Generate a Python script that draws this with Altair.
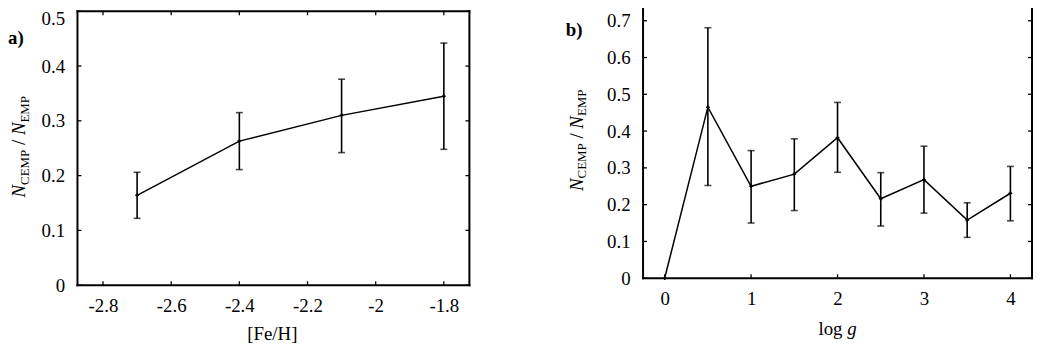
import altair as alt
import pandas as pd

FONT = "Liberation Serif"

# ---------------- data: panel a ----------------
feh = [-2.7, -2.4, -2.1, -1.8]
frac_a = [0.164, 0.263, 0.310, 0.345]
err_lo_a = [0.122, 0.211, 0.242, 0.248]
err_hi_a = [0.206, 0.315, 0.376, 0.442]
xticks_a = [-2.8, -2.6, -2.4, -2.2, -2.0, -1.8]
yticks_a = [0, 0.1, 0.2, 0.3, 0.4, 0.5]

# ---------------- data: panel b ----------------
logg = [0, 0.5, 1, 1.5, 2, 2.5, 3, 3.5, 4]
frac_b = [0.0, 0.465, 0.250, 0.283, 0.382, 0.216, 0.268, 0.158, 0.231]
err_lo_b = [None, 0.252, 0.150, 0.184, 0.288, 0.142, 0.177, 0.111, 0.156]
err_hi_b = [None, 0.681, 0.347, 0.379, 0.478, 0.287, 0.359, 0.205, 0.304]
xticks_b = [0, 1, 2, 3, 4]
yticks_b = [0, 0.1, 0.2, 0.3, 0.4, 0.5, 0.6, 0.7]

# approximate Times / Liberation Serif advance widths (em)
EM = {"N_i": 0.667, "g_i": 0.5, " ": 0.25, "/": 0.278, "C": 0.667, "E": 0.611,
      "M": 0.889, "P": 0.556, "l": 0.278, "o": 0.5, "g": 0.5}


def text_w(s, size, italic=False):
    w = 0
    for ch in s:
        key = ch + "_i" if italic and (ch + "_i") in EM else ch
        w += EM.get(key, 0.5)
    return w * size


def one(text):
    return pd.DataFrame({"t": [text]})


def vtitle(base_x, center_y, pieces):
    """rotated (bottom-to-top) composite title.
    pieces = (text, size, italic, baseline shift, gap before in px)"""
    total = sum(text_w(t, s, it) + g for t, s, it, _, g in pieces)
    y = center_y + total / 2
    layers = []
    for t, s, it, sh, g in pieces:
        y -= g
        layers.append(
            alt.Chart(one(t)).mark_text(
                angle=270, align="left", baseline="alphabetic", font=FONT,
                fontSize=s, fontStyle="italic" if it else "normal", color="black"
            ).encode(x=alt.value(base_x + sh), y=alt.value(y), text="t:N")
        )
        y -= text_w(t, s, it)
    return layers


def htitle(center_x, base_y, pieces):
    """horizontal composite title: pieces = (text, size, italic, gap before in px)"""
    total = sum(text_w(t, s, it) + g for t, s, it, g in pieces)
    x = center_x - total / 2
    layers = []
    for t, s, it, g in pieces:
        x += g
        layers.append(
            alt.Chart(one(t)).mark_text(
                align="left", baseline="alphabetic", font=FONT, fontSize=s,
                fontStyle="italic" if it else "normal", color="black"
            ).encode(x=alt.value(x), y=alt.value(base_y), text="t:N")
        )
        x += text_w(t, s, it)
    return layers


def panel(xs, ys, lo, hi, xt, yt, xdom, ydom, W, H, top, xlabel_expr, ylabel_offset, extra):
    xscale = alt.Scale(domain=xdom, nice=False, zero=False)
    yscale = alt.Scale(domain=ydom, nice=False, zero=False, range=[H, top])
    common = dict(title=None, domain=False, ticks=False, grid=False, labelOverlap=False,
                  labelFlush=False, labelFont=FONT, labelFontSize=19, labelColor="black")
    xax = alt.Axis(values=xt, labelExpr=xlabel_expr, labelBaseline="alphabetic",
                   labelPadding=27, **common)
    yax = alt.Axis(values=yt, labelExpr="format(datum.value, '~g')", labelPadding=13,
                   labelOffset=ylabel_offset, **common)

    def X(f):
        return alt.X(f, type="quantitative", scale=xscale, axis=xax)

    def Y(f):
        return alt.Y(f, type="quantitative", scale=yscale, axis=yax)

    df = pd.DataFrame({"x": xs, "y": ys})
    rows = [(x, l, h) for x, l, h in zip(xs, lo, hi) if l is not None]
    err = pd.DataFrame(rows, columns=["x", "lo", "hi"])
    tx = pd.DataFrame({"v": xt})
    ty = pd.DataFrame({"v": yt})
    k = one("")

    layers = [
        alt.Chart(df).mark_line(color="black", strokeWidth=1.5).encode(x=X("x"), y=Y("y")),
        alt.Chart(err).mark_rule(color="black", strokeWidth=1.6).encode(x=X("x"), y=Y("lo"), y2="hi"),
        alt.Chart(err).mark_tick(orient="horizontal", size=7, thickness=1.6, color="black").encode(x=X("x"), y=Y("lo")),
        alt.Chart(err).mark_tick(orient="horizontal", size=7, thickness=1.6, color="black").encode(x=X("x"), y=Y("hi")),
        alt.Chart(df).mark_point(shape="cross", size=14, filled=True, color="black", opacity=1).encode(x=X("x"), y=Y("y")),
        # inward ticks on all four sides
        alt.Chart(tx).mark_rule(color="black", strokeWidth=1.3).encode(x=X("v"), y=alt.value(H), y2=alt.value(H - 4)),
        alt.Chart(tx).mark_rule(color="black", strokeWidth=1.3).encode(x=X("v"), y=alt.value(top), y2=alt.value(top + 4)),
        alt.Chart(ty).mark_rule(color="black", strokeWidth=1.3).encode(y=Y("v"), x=alt.value(0), x2=alt.value(4)),
        alt.Chart(ty).mark_rule(color="black", strokeWidth=1.3).encode(y=Y("v"), x=alt.value(W - 4), x2=alt.value(W)),
        # frame
        alt.Chart(k).mark_rule(color="black", strokeWidth=2, strokeCap="square").encode(x=alt.value(0), x2=alt.value(W), y=alt.value(top)),
        alt.Chart(k).mark_rule(color="black", strokeWidth=2, strokeCap="square").encode(x=alt.value(0), x2=alt.value(W), y=alt.value(H)),
        alt.Chart(k).mark_rule(color="black", strokeWidth=2, strokeCap="square").encode(x=alt.value(0), y=alt.value(top), y2=alt.value(H)),
        alt.Chart(k).mark_rule(color="black", strokeWidth=2, strokeCap="square").encode(x=alt.value(W), y=alt.value(top), y2=alt.value(H)),
    ]
    return alt.layer(*(layers + extra)).properties(width=W, height=H)


ylab_pieces = [("N", 19, True, 0, 0), ("CEMP", 13, False, 4, 0), ("/", 19, False, 0, 4.75),
               ("N", 19, True, 0, 4.75), ("EMP", 13, False, 4, 0)]

# ---------- panel a ----------
WA, HA = 395, 276
extra_a = (
    [alt.Chart(one("a)")).mark_text(align="left", baseline="alphabetic", font=FONT, fontSize=19,
                                    fontWeight="bold", color="black")
     .encode(x=alt.value(-70), y=alt.value(33), text="t:N")]
    + vtitle(-53, 136.5, ylab_pieces)
    + htitle(WA / 2, 331, [("[Fe/H]", 19, False, 0)])
)
xa_expr = "datum.value < 0 ? '-' + format(-datum.value, '~g') : format(datum.value, '~g')"
ya_offset = {"condition": {"test": "datum.value == 0.5", "value": 7}, "value": 0}
pa = panel(feh, frac_a, err_lo_a, err_hi_a, xticks_a, yticks_a,
           [-2.875, -1.725], [0, 0.5], WA, HA, 0, xa_expr, ya_offset, extra_a)

# ---------- panel b ----------
WB, HB = 392, 269
extra_b = (
    [alt.Chart(one("b)")).mark_text(align="left", baseline="alphabetic", font=FONT, fontSize=19,
                                    fontWeight="bold", color="black")
     .encode(x=alt.value(-78), y=alt.value(25), text="t:N")]
    + vtitle(-61, 130, ylab_pieces)
    + htitle(WB / 2, 326, [("log", 19, False, 0), ("g", 19, True, 4.75)])
)
pb = panel(logg, frac_b, err_lo_b, err_hi_b, xticks_b, yticks_b,
           [-0.25, 4.25], [0, 0.75], WB, HB, -9, "format(datum.value, '~g')", 0, extra_b)

chart = (
    alt.hconcat(pa, pb, spacing=175, bounds="flush")
    .properties(padding={"left": 0, "top": -9, "right": 0, "bottom": 0}, background="white")
    .configure_view(stroke=None)
)

chart.save("out.html", embed_options={"renderer": "svg", "actions": False})
